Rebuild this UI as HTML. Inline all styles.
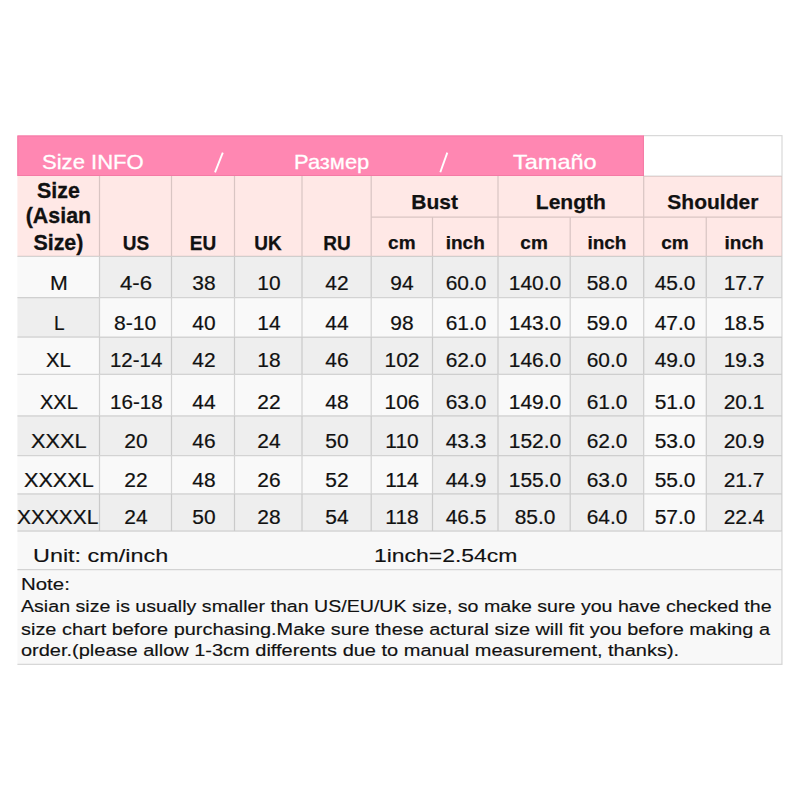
<!DOCTYPE html>
<html><head><meta charset="utf-8"><title>Size INFO</title>
<style>
html,body{margin:0;padding:0;background:#fff;}
body{width:800px;height:800px;position:relative;overflow:hidden;font-family:"Liberation Sans",sans-serif;}
div,span{position:absolute;display:block;white-space:nowrap;}
</style></head><body>
<svg width="800" height="800" viewBox="0 0 800 800" style="position:absolute;left:0;top:0"><rect x="17.40" y="135.50" width="626.50" height="40.50" fill="#ff87b2"/><rect x="17.90" y="136.00" width="625.50" height="39.50" fill="none" stroke="#f47aa5" stroke-width="1"/><rect x="17.40" y="176.00" width="764.60" height="80.40" fill="#ffe8e6"/><rect x="17.40" y="256.40" width="82.10" height="41.10" fill="#f9f9f9"/><rect x="99.50" y="256.40" width="682.50" height="41.10" fill="#eeeeee"/><rect x="17.40" y="297.50" width="82.10" height="39.50" fill="#eeeeee"/><rect x="99.50" y="297.50" width="682.50" height="39.50" fill="#f9f9f9"/><rect x="17.40" y="337.00" width="82.10" height="37.40" fill="#f9f9f9"/><rect x="99.50" y="337.00" width="682.50" height="37.40" fill="#eeeeee"/><rect x="17.40" y="374.40" width="415.10" height="41.40" fill="#f9f9f9"/><rect x="432.50" y="374.40" width="65.50" height="41.40" fill="#eeeeee"/><rect x="498.00" y="374.40" width="72.20" height="41.40" fill="#f9f9f9"/><rect x="570.20" y="374.40" width="73.50" height="41.40" fill="#eeeeee"/><rect x="643.70" y="374.40" width="62.55" height="41.40" fill="#f9f9f9"/><rect x="706.25" y="374.40" width="75.75" height="41.40" fill="#eeeeee"/><rect x="17.40" y="415.80" width="626.30" height="39.70" fill="#eeeeee"/><rect x="643.70" y="415.80" width="62.55" height="39.70" fill="#f9f9f9"/><rect x="706.25" y="415.80" width="75.75" height="39.70" fill="#eeeeee"/><rect x="17.40" y="455.50" width="415.10" height="38.30" fill="#f9f9f9"/><rect x="432.50" y="455.50" width="211.20" height="38.30" fill="#eeeeee"/><rect x="643.70" y="455.50" width="62.55" height="38.30" fill="#f9f9f9"/><rect x="706.25" y="455.50" width="75.75" height="38.30" fill="#eeeeee"/><rect x="17.40" y="493.80" width="626.30" height="37.40" fill="#eeeeee"/><rect x="643.70" y="493.80" width="62.55" height="37.40" fill="#f9f9f9"/><rect x="706.25" y="493.80" width="75.75" height="37.40" fill="#eeeeee"/><rect x="17.40" y="531.20" width="764.60" height="133.10" fill="#f8f8f8"/><path d="M643.70 135.50H782.50M782.00 135.50V664.80M643.70 176.00H782.00M371.20 217.00H782.00M17.40 256.40H782.00M17.40 297.50H782.00M17.40 337.00H782.00M17.40 374.40H782.00M17.40 415.80H782.00M17.40 455.50H782.00M17.40 493.80H782.00M17.40 531.20H782.00M17.40 569.60H782.00M17.40 664.30H782.50M99.50 176.00V531.20M171.50 176.00V531.20M234.50 176.00V531.20M302.00 176.00V531.20M371.20 176.00V531.20M498.00 176.00V531.20M643.70 176.00V531.20M432.50 217.00V531.20M570.20 217.00V531.20M706.25 217.00V531.20" fill="none" stroke="#000" stroke-opacity="0.15" stroke-width="1.25"/><g stroke="#fff" stroke-width="1.9"><line x1="215.0" y1="172.3" x2="222.8" y2="152.6"/><line x1="440.3" y1="172.3" x2="447.3" y2="152.6"/></g></svg>
<span style="left:42.20px;top:150.52px;font-size:21.1px;line-height:21.1px;font-weight:normal;color:#fff;-webkit-text-stroke:0.3px #fff;transform:scale(1.0461,1.0000);transform-origin:0 84.65%">Size INFO</span>
<span style="left:294.00px;top:150.52px;font-size:21.1px;line-height:21.1px;font-weight:normal;color:#fff;-webkit-text-stroke:0.3px #fff;transform:scale(1.0383,1.0000);transform-origin:0 84.65%">Размер</span>
<span style="left:512.80px;top:150.52px;font-size:21.1px;line-height:21.1px;font-weight:normal;color:#fff;-webkit-text-stroke:0.3px #fff;transform:scale(1.1149,1.0000);transform-origin:0 84.65%">Tamaño</span>
<span style="left:58.45px;top:181.02px;font-size:21.4px;line-height:21.4px;font-weight:bold;color:#111;-webkit-text-stroke:0.3px #111;transform:translateX(-50%) scale(1.0000,1.0000);transform-origin:50% 84.65%">Size</span>
<span style="left:58.45px;top:206.02px;font-size:21.4px;line-height:21.4px;font-weight:bold;color:#111;-webkit-text-stroke:0.3px #111;transform:translateX(-50%) scale(1.0000,1.0000);transform-origin:50% 84.65%">(Asian</span>
<span style="left:58.45px;top:233.02px;font-size:21.4px;line-height:21.4px;font-weight:bold;color:#111;-webkit-text-stroke:0.3px #111;transform:translateX(-50%) scale(1.0000,1.0000);transform-origin:50% 84.65%">Size)</span>
<span style="left:135.50px;top:234.02px;font-size:19.6px;line-height:19.6px;font-weight:bold;color:#111;-webkit-text-stroke:0.25px #111;transform:translateX(-50%) scale(0.9700,1.0000);transform-origin:50% 84.65%">US</span>
<span style="left:203.00px;top:234.02px;font-size:19.6px;line-height:19.6px;font-weight:bold;color:#111;-webkit-text-stroke:0.25px #111;transform:translateX(-50%) scale(0.9700,1.0000);transform-origin:50% 84.65%">EU</span>
<span style="left:268.25px;top:234.02px;font-size:19.6px;line-height:19.6px;font-weight:bold;color:#111;-webkit-text-stroke:0.25px #111;transform:translateX(-50%) scale(0.9700,1.0000);transform-origin:50% 84.65%">UK</span>
<span style="left:336.60px;top:234.02px;font-size:19.6px;line-height:19.6px;font-weight:bold;color:#111;-webkit-text-stroke:0.25px #111;transform:translateX(-50%) scale(0.9700,1.0000);transform-origin:50% 84.65%">RU</span>
<span style="left:401.85px;top:233.02px;font-size:19.0px;line-height:19.0px;font-weight:bold;color:#111;-webkit-text-stroke:0.25px #111;transform:translateX(-50%) scale(1.0000,1.0000);transform-origin:50% 84.65%">cm</span>
<span style="left:465.25px;top:233.02px;font-size:19.0px;line-height:19.0px;font-weight:bold;color:#111;-webkit-text-stroke:0.25px #111;transform:translateX(-50%) scale(1.0000,1.0000);transform-origin:50% 84.65%">inch</span>
<span style="left:534.10px;top:233.02px;font-size:19.0px;line-height:19.0px;font-weight:bold;color:#111;-webkit-text-stroke:0.25px #111;transform:translateX(-50%) scale(1.0000,1.0000);transform-origin:50% 84.65%">cm</span>
<span style="left:606.95px;top:233.02px;font-size:19.0px;line-height:19.0px;font-weight:bold;color:#111;-webkit-text-stroke:0.25px #111;transform:translateX(-50%) scale(1.0000,1.0000);transform-origin:50% 84.65%">inch</span>
<span style="left:674.98px;top:233.02px;font-size:19.0px;line-height:19.0px;font-weight:bold;color:#111;-webkit-text-stroke:0.25px #111;transform:translateX(-50%) scale(1.0000,1.0000);transform-origin:50% 84.65%">cm</span>
<span style="left:744.12px;top:233.02px;font-size:19.0px;line-height:19.0px;font-weight:bold;color:#111;-webkit-text-stroke:0.25px #111;transform:translateX(-50%) scale(1.0000,1.0000);transform-origin:50% 84.65%">inch</span>
<span style="left:434.60px;top:191.02px;font-size:21px;line-height:21px;font-weight:bold;color:#111;-webkit-text-stroke:0.25px #111;transform:translateX(-50%) scale(1.0000,1.0000);transform-origin:50% 84.65%">Bust</span>
<span style="left:570.85px;top:191.02px;font-size:21px;line-height:21px;font-weight:bold;color:#111;-webkit-text-stroke:0.25px #111;transform:translateX(-50%) scale(1.0000,1.0000);transform-origin:50% 84.65%">Length</span>
<span style="left:712.85px;top:191.02px;font-size:21px;line-height:21px;font-weight:bold;color:#111;-webkit-text-stroke:0.25px #111;transform:translateX(-50%) scale(1.0000,1.0000);transform-origin:50% 84.65%">Shoulder</span>
<span style="left:50.00px;top:274.02px;font-size:19.6px;line-height:19.6px;font-weight:normal;color:#111;-webkit-text-stroke:0.2px #111;transform:scale(1.0902,1.0000);transform-origin:0 84.65%">M</span>
<span style="left:119.80px;top:274.02px;font-size:19.6px;line-height:19.6px;font-weight:normal;color:#111;-webkit-text-stroke:0.2px #111;transform:scale(1.1299,1.0000);transform-origin:0 84.65%">4-6</span>
<span style="left:204.00px;top:274.02px;font-size:19.6px;line-height:19.6px;font-weight:normal;color:#111;-webkit-text-stroke:0.2px #111;transform:translateX(-50%) scale(1.0680,1.0000);transform-origin:50% 84.65%">38</span>
<span style="left:269.35px;top:274.02px;font-size:19.6px;line-height:19.6px;font-weight:normal;color:#111;-webkit-text-stroke:0.2px #111;transform:translateX(-50%) scale(1.0680,1.0000);transform-origin:50% 84.65%">10</span>
<span style="left:336.60px;top:274.02px;font-size:19.6px;line-height:19.6px;font-weight:normal;color:#111;-webkit-text-stroke:0.2px #111;transform:translateX(-50%) scale(1.0680,1.0000);transform-origin:50% 84.65%">42</span>
<span style="left:401.85px;top:274.02px;font-size:19.6px;line-height:19.6px;font-weight:normal;color:#111;-webkit-text-stroke:0.2px #111;transform:translateX(-50%) scale(1.0680,1.0000);transform-origin:50% 84.65%">94</span>
<span style="left:465.55px;top:274.02px;font-size:19.6px;line-height:19.6px;font-weight:normal;color:#111;-webkit-text-stroke:0.2px #111;transform:translateX(-50%) scale(1.0680,1.0000);transform-origin:50% 84.65%">60.0</span>
<span style="left:535.00px;top:274.02px;font-size:19.6px;line-height:19.6px;font-weight:normal;color:#111;-webkit-text-stroke:0.2px #111;transform:translateX(-50%) scale(1.0680,1.0000);transform-origin:50% 84.65%">140.0</span>
<span style="left:606.95px;top:274.02px;font-size:19.6px;line-height:19.6px;font-weight:normal;color:#111;-webkit-text-stroke:0.2px #111;transform:translateX(-50%) scale(1.0680,1.0000);transform-origin:50% 84.65%">58.0</span>
<span style="left:675.38px;top:274.02px;font-size:19.6px;line-height:19.6px;font-weight:normal;color:#111;-webkit-text-stroke:0.2px #111;transform:translateX(-50%) scale(1.0680,1.0000);transform-origin:50% 84.65%">45.0</span>
<span style="left:744.12px;top:274.02px;font-size:19.6px;line-height:19.6px;font-weight:normal;color:#111;-webkit-text-stroke:0.2px #111;transform:translateX(-50%) scale(1.0680,1.0000);transform-origin:50% 84.65%">17.7</span>
<span style="left:53.75px;top:314.02px;font-size:19.6px;line-height:19.6px;font-weight:normal;color:#111;-webkit-text-stroke:0.2px #111;transform:scale(0.9681,1.0000);transform-origin:0 84.65%">L</span>
<span style="left:114.40px;top:314.02px;font-size:19.6px;line-height:19.6px;font-weight:normal;color:#111;-webkit-text-stroke:0.2px #111;transform:scale(1.0785,1.0000);transform-origin:0 84.65%">8-10</span>
<span style="left:204.00px;top:314.02px;font-size:19.6px;line-height:19.6px;font-weight:normal;color:#111;-webkit-text-stroke:0.2px #111;transform:translateX(-50%) scale(1.0680,1.0000);transform-origin:50% 84.65%">40</span>
<span style="left:269.35px;top:314.02px;font-size:19.6px;line-height:19.6px;font-weight:normal;color:#111;-webkit-text-stroke:0.2px #111;transform:translateX(-50%) scale(1.0680,1.0000);transform-origin:50% 84.65%">14</span>
<span style="left:336.60px;top:314.02px;font-size:19.6px;line-height:19.6px;font-weight:normal;color:#111;-webkit-text-stroke:0.2px #111;transform:translateX(-50%) scale(1.0680,1.0000);transform-origin:50% 84.65%">44</span>
<span style="left:401.85px;top:314.02px;font-size:19.6px;line-height:19.6px;font-weight:normal;color:#111;-webkit-text-stroke:0.2px #111;transform:translateX(-50%) scale(1.0680,1.0000);transform-origin:50% 84.65%">98</span>
<span style="left:465.55px;top:314.02px;font-size:19.6px;line-height:19.6px;font-weight:normal;color:#111;-webkit-text-stroke:0.2px #111;transform:translateX(-50%) scale(1.0680,1.0000);transform-origin:50% 84.65%">61.0</span>
<span style="left:535.00px;top:314.02px;font-size:19.6px;line-height:19.6px;font-weight:normal;color:#111;-webkit-text-stroke:0.2px #111;transform:translateX(-50%) scale(1.0680,1.0000);transform-origin:50% 84.65%">143.0</span>
<span style="left:606.95px;top:314.02px;font-size:19.6px;line-height:19.6px;font-weight:normal;color:#111;-webkit-text-stroke:0.2px #111;transform:translateX(-50%) scale(1.0680,1.0000);transform-origin:50% 84.65%">59.0</span>
<span style="left:675.38px;top:314.02px;font-size:19.6px;line-height:19.6px;font-weight:normal;color:#111;-webkit-text-stroke:0.2px #111;transform:translateX(-50%) scale(1.0680,1.0000);transform-origin:50% 84.65%">47.0</span>
<span style="left:744.12px;top:314.02px;font-size:19.6px;line-height:19.6px;font-weight:normal;color:#111;-webkit-text-stroke:0.2px #111;transform:translateX(-50%) scale(1.0680,1.0000);transform-origin:50% 84.65%">18.5</span>
<span style="left:46.25px;top:351.02px;font-size:19.6px;line-height:19.6px;font-weight:normal;color:#111;-webkit-text-stroke:0.2px #111;transform:scale(1.0346,1.0000);transform-origin:0 84.65%">XL</span>
<span style="left:110.00px;top:351.02px;font-size:19.6px;line-height:19.6px;font-weight:normal;color:#111;-webkit-text-stroke:0.2px #111;transform:scale(1.0431,1.0000);transform-origin:0 84.65%">12-14</span>
<span style="left:204.00px;top:351.02px;font-size:19.6px;line-height:19.6px;font-weight:normal;color:#111;-webkit-text-stroke:0.2px #111;transform:translateX(-50%) scale(1.0680,1.0000);transform-origin:50% 84.65%">42</span>
<span style="left:269.35px;top:351.02px;font-size:19.6px;line-height:19.6px;font-weight:normal;color:#111;-webkit-text-stroke:0.2px #111;transform:translateX(-50%) scale(1.0680,1.0000);transform-origin:50% 84.65%">18</span>
<span style="left:336.60px;top:351.02px;font-size:19.6px;line-height:19.6px;font-weight:normal;color:#111;-webkit-text-stroke:0.2px #111;transform:translateX(-50%) scale(1.0680,1.0000);transform-origin:50% 84.65%">46</span>
<span style="left:401.85px;top:351.02px;font-size:19.6px;line-height:19.6px;font-weight:normal;color:#111;-webkit-text-stroke:0.2px #111;transform:translateX(-50%) scale(1.0680,1.0000);transform-origin:50% 84.65%">102</span>
<span style="left:465.55px;top:351.02px;font-size:19.6px;line-height:19.6px;font-weight:normal;color:#111;-webkit-text-stroke:0.2px #111;transform:translateX(-50%) scale(1.0680,1.0000);transform-origin:50% 84.65%">62.0</span>
<span style="left:535.00px;top:351.02px;font-size:19.6px;line-height:19.6px;font-weight:normal;color:#111;-webkit-text-stroke:0.2px #111;transform:translateX(-50%) scale(1.0680,1.0000);transform-origin:50% 84.65%">146.0</span>
<span style="left:606.95px;top:351.02px;font-size:19.6px;line-height:19.6px;font-weight:normal;color:#111;-webkit-text-stroke:0.2px #111;transform:translateX(-50%) scale(1.0680,1.0000);transform-origin:50% 84.65%">60.0</span>
<span style="left:675.38px;top:351.02px;font-size:19.6px;line-height:19.6px;font-weight:normal;color:#111;-webkit-text-stroke:0.2px #111;transform:translateX(-50%) scale(1.0680,1.0000);transform-origin:50% 84.65%">49.0</span>
<span style="left:744.12px;top:351.02px;font-size:19.6px;line-height:19.6px;font-weight:normal;color:#111;-webkit-text-stroke:0.2px #111;transform:translateX(-50%) scale(1.0680,1.0000);transform-origin:50% 84.65%">19.3</span>
<span style="left:39.50px;top:393.02px;font-size:19.6px;line-height:19.6px;font-weight:normal;color:#111;-webkit-text-stroke:0.2px #111;transform:scale(1.0204,1.0000);transform-origin:0 84.65%">XXL</span>
<span style="left:109.60px;top:393.02px;font-size:19.6px;line-height:19.6px;font-weight:normal;color:#111;-webkit-text-stroke:0.2px #111;transform:scale(1.0511,1.0000);transform-origin:0 84.65%">16-18</span>
<span style="left:204.00px;top:393.02px;font-size:19.6px;line-height:19.6px;font-weight:normal;color:#111;-webkit-text-stroke:0.2px #111;transform:translateX(-50%) scale(1.0680,1.0000);transform-origin:50% 84.65%">44</span>
<span style="left:269.35px;top:393.02px;font-size:19.6px;line-height:19.6px;font-weight:normal;color:#111;-webkit-text-stroke:0.2px #111;transform:translateX(-50%) scale(1.0680,1.0000);transform-origin:50% 84.65%">22</span>
<span style="left:336.60px;top:393.02px;font-size:19.6px;line-height:19.6px;font-weight:normal;color:#111;-webkit-text-stroke:0.2px #111;transform:translateX(-50%) scale(1.0680,1.0000);transform-origin:50% 84.65%">48</span>
<span style="left:401.85px;top:393.02px;font-size:19.6px;line-height:19.6px;font-weight:normal;color:#111;-webkit-text-stroke:0.2px #111;transform:translateX(-50%) scale(1.0680,1.0000);transform-origin:50% 84.65%">106</span>
<span style="left:465.55px;top:393.02px;font-size:19.6px;line-height:19.6px;font-weight:normal;color:#111;-webkit-text-stroke:0.2px #111;transform:translateX(-50%) scale(1.0680,1.0000);transform-origin:50% 84.65%">63.0</span>
<span style="left:535.00px;top:393.02px;font-size:19.6px;line-height:19.6px;font-weight:normal;color:#111;-webkit-text-stroke:0.2px #111;transform:translateX(-50%) scale(1.0680,1.0000);transform-origin:50% 84.65%">149.0</span>
<span style="left:606.95px;top:393.02px;font-size:19.6px;line-height:19.6px;font-weight:normal;color:#111;-webkit-text-stroke:0.2px #111;transform:translateX(-50%) scale(1.0680,1.0000);transform-origin:50% 84.65%">61.0</span>
<span style="left:675.38px;top:393.02px;font-size:19.6px;line-height:19.6px;font-weight:normal;color:#111;-webkit-text-stroke:0.2px #111;transform:translateX(-50%) scale(1.0680,1.0000);transform-origin:50% 84.65%">51.0</span>
<span style="left:744.12px;top:393.02px;font-size:19.6px;line-height:19.6px;font-weight:normal;color:#111;-webkit-text-stroke:0.2px #111;transform:translateX(-50%) scale(1.0680,1.0000);transform-origin:50% 84.65%">20.1</span>
<span style="left:30.50px;top:432.02px;font-size:19.6px;line-height:19.6px;font-weight:normal;color:#111;-webkit-text-stroke:0.2px #111;transform:scale(1.1084,1.0000);transform-origin:0 84.65%">XXXL</span>
<span style="left:135.90px;top:432.02px;font-size:19.6px;line-height:19.6px;font-weight:normal;color:#111;-webkit-text-stroke:0.2px #111;transform:translateX(-50%) scale(1.0680,1.0000);transform-origin:50% 84.65%">20</span>
<span style="left:204.00px;top:432.02px;font-size:19.6px;line-height:19.6px;font-weight:normal;color:#111;-webkit-text-stroke:0.2px #111;transform:translateX(-50%) scale(1.0680,1.0000);transform-origin:50% 84.65%">46</span>
<span style="left:269.35px;top:432.02px;font-size:19.6px;line-height:19.6px;font-weight:normal;color:#111;-webkit-text-stroke:0.2px #111;transform:translateX(-50%) scale(1.0680,1.0000);transform-origin:50% 84.65%">24</span>
<span style="left:336.60px;top:432.02px;font-size:19.6px;line-height:19.6px;font-weight:normal;color:#111;-webkit-text-stroke:0.2px #111;transform:translateX(-50%) scale(1.0680,1.0000);transform-origin:50% 84.65%">50</span>
<span style="left:401.85px;top:432.02px;font-size:19.6px;line-height:19.6px;font-weight:normal;color:#111;-webkit-text-stroke:0.2px #111;transform:translateX(-50%) scale(1.0680,1.0000);transform-origin:50% 84.65%">110</span>
<span style="left:465.55px;top:432.02px;font-size:19.6px;line-height:19.6px;font-weight:normal;color:#111;-webkit-text-stroke:0.2px #111;transform:translateX(-50%) scale(1.0680,1.0000);transform-origin:50% 84.65%">43.3</span>
<span style="left:535.00px;top:432.02px;font-size:19.6px;line-height:19.6px;font-weight:normal;color:#111;-webkit-text-stroke:0.2px #111;transform:translateX(-50%) scale(1.0680,1.0000);transform-origin:50% 84.65%">152.0</span>
<span style="left:606.95px;top:432.02px;font-size:19.6px;line-height:19.6px;font-weight:normal;color:#111;-webkit-text-stroke:0.2px #111;transform:translateX(-50%) scale(1.0680,1.0000);transform-origin:50% 84.65%">62.0</span>
<span style="left:675.38px;top:432.02px;font-size:19.6px;line-height:19.6px;font-weight:normal;color:#111;-webkit-text-stroke:0.2px #111;transform:translateX(-50%) scale(1.0680,1.0000);transform-origin:50% 84.65%">53.0</span>
<span style="left:744.12px;top:432.02px;font-size:19.6px;line-height:19.6px;font-weight:normal;color:#111;-webkit-text-stroke:0.2px #111;transform:translateX(-50%) scale(1.0680,1.0000);transform-origin:50% 84.65%">20.9</span>
<span style="left:23.75px;top:471.02px;font-size:19.6px;line-height:19.6px;font-weight:normal;color:#111;-webkit-text-stroke:0.2px #111;transform:scale(1.1046,1.0000);transform-origin:0 84.65%">XXXXL</span>
<span style="left:135.90px;top:471.02px;font-size:19.6px;line-height:19.6px;font-weight:normal;color:#111;-webkit-text-stroke:0.2px #111;transform:translateX(-50%) scale(1.0680,1.0000);transform-origin:50% 84.65%">22</span>
<span style="left:204.00px;top:471.02px;font-size:19.6px;line-height:19.6px;font-weight:normal;color:#111;-webkit-text-stroke:0.2px #111;transform:translateX(-50%) scale(1.0680,1.0000);transform-origin:50% 84.65%">48</span>
<span style="left:269.35px;top:471.02px;font-size:19.6px;line-height:19.6px;font-weight:normal;color:#111;-webkit-text-stroke:0.2px #111;transform:translateX(-50%) scale(1.0680,1.0000);transform-origin:50% 84.65%">26</span>
<span style="left:336.60px;top:471.02px;font-size:19.6px;line-height:19.6px;font-weight:normal;color:#111;-webkit-text-stroke:0.2px #111;transform:translateX(-50%) scale(1.0680,1.0000);transform-origin:50% 84.65%">52</span>
<span style="left:401.85px;top:471.02px;font-size:19.6px;line-height:19.6px;font-weight:normal;color:#111;-webkit-text-stroke:0.2px #111;transform:translateX(-50%) scale(1.0680,1.0000);transform-origin:50% 84.65%">114</span>
<span style="left:465.55px;top:471.02px;font-size:19.6px;line-height:19.6px;font-weight:normal;color:#111;-webkit-text-stroke:0.2px #111;transform:translateX(-50%) scale(1.0680,1.0000);transform-origin:50% 84.65%">44.9</span>
<span style="left:535.00px;top:471.02px;font-size:19.6px;line-height:19.6px;font-weight:normal;color:#111;-webkit-text-stroke:0.2px #111;transform:translateX(-50%) scale(1.0680,1.0000);transform-origin:50% 84.65%">155.0</span>
<span style="left:606.95px;top:471.02px;font-size:19.6px;line-height:19.6px;font-weight:normal;color:#111;-webkit-text-stroke:0.2px #111;transform:translateX(-50%) scale(1.0680,1.0000);transform-origin:50% 84.65%">63.0</span>
<span style="left:675.38px;top:471.02px;font-size:19.6px;line-height:19.6px;font-weight:normal;color:#111;-webkit-text-stroke:0.2px #111;transform:translateX(-50%) scale(1.0680,1.0000);transform-origin:50% 84.65%">55.0</span>
<span style="left:744.12px;top:471.02px;font-size:19.6px;line-height:19.6px;font-weight:normal;color:#111;-webkit-text-stroke:0.2px #111;transform:translateX(-50%) scale(1.0680,1.0000);transform-origin:50% 84.65%">21.7</span>
<span style="left:17.20px;top:508.02px;font-size:19.6px;line-height:19.6px;font-weight:normal;color:#111;-webkit-text-stroke:0.2px #111;transform:scale(1.0667,1.0000);transform-origin:0 84.65%">XXXXXL</span>
<span style="left:135.90px;top:508.02px;font-size:19.6px;line-height:19.6px;font-weight:normal;color:#111;-webkit-text-stroke:0.2px #111;transform:translateX(-50%) scale(1.0680,1.0000);transform-origin:50% 84.65%">24</span>
<span style="left:204.00px;top:508.02px;font-size:19.6px;line-height:19.6px;font-weight:normal;color:#111;-webkit-text-stroke:0.2px #111;transform:translateX(-50%) scale(1.0680,1.0000);transform-origin:50% 84.65%">50</span>
<span style="left:269.35px;top:508.02px;font-size:19.6px;line-height:19.6px;font-weight:normal;color:#111;-webkit-text-stroke:0.2px #111;transform:translateX(-50%) scale(1.0680,1.0000);transform-origin:50% 84.65%">28</span>
<span style="left:336.60px;top:508.02px;font-size:19.6px;line-height:19.6px;font-weight:normal;color:#111;-webkit-text-stroke:0.2px #111;transform:translateX(-50%) scale(1.0680,1.0000);transform-origin:50% 84.65%">54</span>
<span style="left:401.85px;top:508.02px;font-size:19.6px;line-height:19.6px;font-weight:normal;color:#111;-webkit-text-stroke:0.2px #111;transform:translateX(-50%) scale(1.0680,1.0000);transform-origin:50% 84.65%">118</span>
<span style="left:465.55px;top:508.02px;font-size:19.6px;line-height:19.6px;font-weight:normal;color:#111;-webkit-text-stroke:0.2px #111;transform:translateX(-50%) scale(1.0680,1.0000);transform-origin:50% 84.65%">46.5</span>
<span style="left:535.00px;top:508.02px;font-size:19.6px;line-height:19.6px;font-weight:normal;color:#111;-webkit-text-stroke:0.2px #111;transform:translateX(-50%) scale(1.0680,1.0000);transform-origin:50% 84.65%">85.0</span>
<span style="left:606.95px;top:508.02px;font-size:19.6px;line-height:19.6px;font-weight:normal;color:#111;-webkit-text-stroke:0.2px #111;transform:translateX(-50%) scale(1.0680,1.0000);transform-origin:50% 84.65%">64.0</span>
<span style="left:675.38px;top:508.02px;font-size:19.6px;line-height:19.6px;font-weight:normal;color:#111;-webkit-text-stroke:0.2px #111;transform:translateX(-50%) scale(1.0680,1.0000);transform-origin:50% 84.65%">57.0</span>
<span style="left:744.12px;top:508.02px;font-size:19.6px;line-height:19.6px;font-weight:normal;color:#111;-webkit-text-stroke:0.2px #111;transform:translateX(-50%) scale(1.0680,1.0000);transform-origin:50% 84.65%">22.4</span>
<span style="left:33.00px;top:547.02px;font-size:18.9px;line-height:18.9px;font-weight:normal;color:#111;-webkit-text-stroke:0.15px #111;transform:scale(1.2383,1.0000);transform-origin:0 84.65%">Unit: cm/inch</span>
<span style="left:373.80px;top:547.02px;font-size:18.9px;line-height:18.9px;font-weight:normal;color:#111;-webkit-text-stroke:0.15px #111;transform:scale(1.2136,1.0000);transform-origin:0 84.65%">1inch=2.54cm</span>
<span style="left:21.00px;top:576.02px;font-size:17.1px;line-height:17.1px;font-weight:normal;color:#111;-webkit-text-stroke:0.15px #111;transform:scale(1.1953,1.0000);transform-origin:0 84.65%">Note:</span>
<span style="left:21.00px;top:598.02px;font-size:17.1px;line-height:17.1px;font-weight:normal;color:#111;-webkit-text-stroke:0.15px #111;transform:scale(1.1466,1.0000);transform-origin:0 84.65%">Asian size is usually smaller than US/EU/UK size, so make sure you have checked the</span>
<span style="left:21.00px;top:621.02px;font-size:17.1px;line-height:17.1px;font-weight:normal;color:#111;-webkit-text-stroke:0.15px #111;transform:scale(1.1645,1.0000);transform-origin:0 84.65%">size chart before purchasing.Make sure these actural size will fit you before making a</span>
<span style="left:21.00px;top:642.02px;font-size:17.1px;line-height:17.1px;font-weight:normal;color:#111;-webkit-text-stroke:0.15px #111;transform:scale(1.1687,1.0000);transform-origin:0 84.65%">order.(please allow 1-3cm differents due to manual measurement, thanks).</span>
</body></html>
